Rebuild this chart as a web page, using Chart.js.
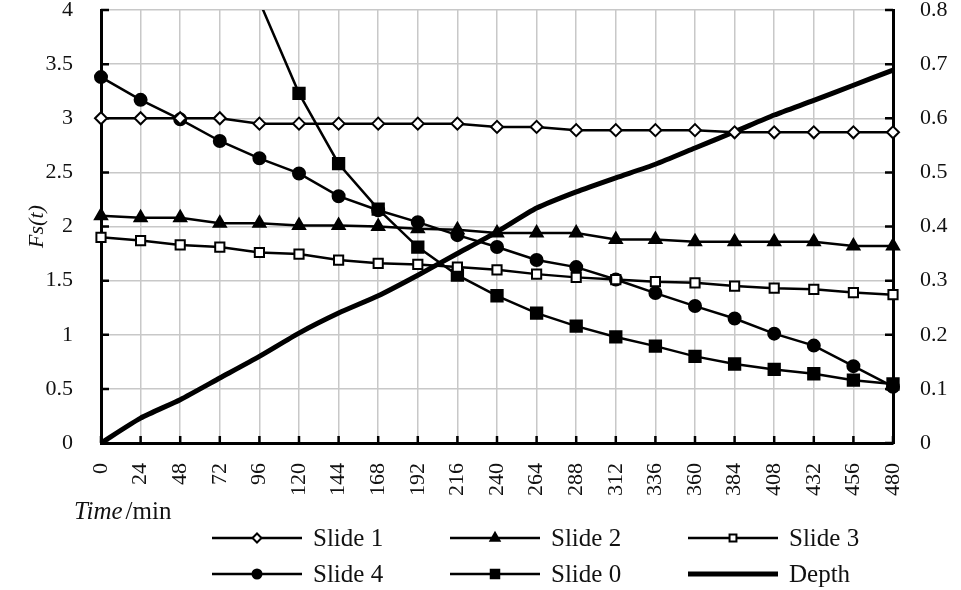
<!DOCTYPE html>
<html>
<head>
<meta charset="utf-8">
<script src="https://cdn.jsdelivr.net/npm/chart.js@4.4.1/dist/chart.umd.min.js"></script>
<style>
  html, body { margin: 0; padding: 0; background: #fff; }
</style>
</head>
<body>
<canvas id="fsChart" width="961" height="590"></canvas>
<script>
// time steps (min)
const times = [0, 24, 48, 72, 96, 120, 144, 168, 192, 216, 240, 264, 288, 312, 336, 360, 384, 408, 432, 456, 480];

// safety factor per slide (left axis)
const slide1 = [3.0, 3.0, 3.0, 3.0, 2.95, 2.95, 2.95, 2.95, 2.95, 2.95, 2.92, 2.92, 2.89, 2.89, 2.89, 2.89, 2.87, 2.87, 2.87, 2.87, 2.87];
const slide2 = [2.1, 2.08, 2.08, 2.03, 2.03, 2.01, 2.01, 2.0, 1.98, 1.97, 1.94, 1.94, 1.94, 1.88, 1.88, 1.86, 1.86, 1.86, 1.86, 1.82, 1.82];
const slide3 = [1.9, 1.87, 1.83, 1.81, 1.76, 1.745, 1.69, 1.66, 1.65, 1.625, 1.6, 1.56, 1.53, 1.51, 1.49, 1.48, 1.45, 1.43, 1.42, 1.39, 1.37];
const slide4 = [3.38, 3.17, 2.99, 2.79, 2.63, 2.49, 2.28, 2.15, 2.04, 1.92, 1.81, 1.69, 1.625, 1.51, 1.385, 1.265, 1.15, 1.01, 0.9, 0.71, 0.52];
const slide0 = [null, null, null, null, 4.08, 3.23, 2.58, 2.16, 1.81, 1.55, 1.36, 1.2, 1.08, 0.98, 0.895, 0.8, 0.73, 0.68, 0.64, 0.58, 0.545];

// depth (right axis)
const depth = [0, 0.046, 0.08, 0.12, 0.16, 0.203, 0.24, 0.272, 0.31, 0.35, 0.39, 0.434, 0.464, 0.49, 0.515, 0.545, 0.575, 0.606, 0.633, 0.661, 0.689];

// tick labels
const fsTicks = ['0', '0.5', '1', '1.5', '2', '2.5', '3', '3.5', '4'];
const depthTicks = ['0', '0.1', '0.2', '0.3', '0.4', '0.5', '0.6', '0.7', '0.8'];

const serif = '"Liberation Serif", "Times New Roman", serif';
Chart.defaults.font.family = serif;
Chart.defaults.color = '#111';

const gridColor = '#c8c8c8';

// keep the plot box fixed: no extra room for half labels
function noPad(s) {
  s.paddingTop = 0; s.paddingBottom = 0; s.paddingLeft = 0; s.paddingRight = 0;
}

// short black tick marks pointing into the plot
const inwardTicks = {
  id: 'inwardTicks',
  beforeDatasetsDraw(chart) {
    const { ctx, chartArea: a, scales } = chart;
    ctx.save();
    ctx.strokeStyle = '#000';
    ctx.lineWidth = 2.5;
    ctx.beginPath();
    scales.x.ticks.forEach((t, i) => {
      const px = scales.x.getPixelForTick(i);
      ctx.moveTo(px, a.bottom);
      ctx.lineTo(px, a.bottom - 7);
    });
    scales.y.ticks.forEach((t, i) => {
      const py = scales.y.getPixelForTick(i);
      ctx.moveTo(a.left, py);
      ctx.lineTo(a.left + 8, py);
    });
    scales.y1.ticks.forEach((t, i) => {
      const py = scales.y1.getPixelForTick(i);
      ctx.moveTo(a.right, py);
      ctx.lineTo(a.right - 8, py);
    });
    ctx.stroke();
    ctx.restore();
  }
};

// x title (italic "Time" + "/min") and the 3-column legend
const extras = {
  id: 'extras',
  afterDraw(chart) {
    const { ctx } = chart;
    ctx.save();
    ctx.fillStyle = '#111';
    ctx.textBaseline = 'middle';
    ctx.font = 'italic 25px ' + serif;
    ctx.fillText('Time', 74, 512);
    const w = ctx.measureText('Time').width;
    ctx.font = '25px ' + serif;
    ctx.fillText('/min', 74 + w + 3, 512);

    chart.data.datasets.forEach((ds, i) => {
      const col = i % 3, row = Math.floor(i / 3);
      const x0 = 212 + col * 238, y = 538 + row * 36;
      ctx.strokeStyle = '#000';
      ctx.lineWidth = ds.borderWidth;
      ctx.beginPath();
      ctx.moveTo(x0, y);
      ctx.lineTo(x0 + 90, y);
      ctx.stroke();
      if (ds.pointRadius > 0) {
        ctx.fillStyle = ds.pointBackgroundColor;
        ctx.lineWidth = ds.pointBorderWidth;
        Chart.helpers.drawPoint(ctx, {
          pointStyle: ds.pointStyle,
          radius: ds.pointRadius * 0.75,
          rotation: 0,
          borderWidth: ds.pointBorderWidth
        }, x0 + 45, y);
      }
      ctx.fillStyle = '#111';
      ctx.font = '25px ' + serif;
      ctx.fillText(ds.label, x0 + 101, y + 1);
    });
    ctx.restore();
  }
};

function series(label, data, style, radius, fill) {
  return {
    label, data, yAxisID: 'y',
    borderColor: '#000', borderWidth: 2.5,
    pointStyle: style, pointRadius: radius, pointHoverRadius: radius,
    pointBackgroundColor: fill, pointBorderColor: '#000', pointBorderWidth: 2,
    tension: 0, spanGaps: false
  };
}

new Chart(document.getElementById('fsChart'), {
  type: 'line',
  data: {
    labels: times.map(String),
    datasets: [
      series('Slide 1', slide1, 'rectRot', 6, '#fff'),
      series('Slide 2', slide2, 'triangle', 7, '#000'),
      series('Slide 3', slide3, 'rect', 6.5, '#fff'),
      series('Slide 4', slide4, 'circle', 6, '#000'),
      series('Slide 0', slide0, 'rect', 8, '#000'),
      {
        label: 'Depth', data: depth, yAxisID: 'y1',
        borderColor: '#000', borderWidth: 5, pointRadius: 0, tension: 0.2
      }
    ]
  },
  options: {
    responsive: false,
    animation: false,
    devicePixelRatio: 1,
    layout: { padding: { top: 10, left: 0, right: 0, bottom: 0 } },
    plugins: { legend: { display: false }, tooltip: { enabled: false } },
    scales: {
      x: {
        type: 'category',
        offset: false,
        grid: { color: gridColor, lineWidth: 1.5, drawTicks: false },
        border: { color: '#000', width: 3 },
        ticks: { autoSkip: false, minRotation: 90, maxRotation: 90, padding: 20, font: { size: 22 } },
        afterFit(s) { s.height = 147; noPad(s); }
      },
      y: {
        position: 'left',
        min: 0, max: 4,
        grid: { color: gridColor, lineWidth: 1.5, drawTicks: false },
        border: { color: '#000', width: 3 },
        ticks: { stepSize: 0.5, padding: 28, font: { size: 22 }, callback: (v, i) => fsTicks[i] },
        title: { display: true, text: 'Fs(t)', font: { size: 22, style: 'italic' }, padding: { top: 24, bottom: 0 } },
        afterFit(s) { s.width = 101; noPad(s); }
      },
      y1: {
        position: 'right',
        min: 0, max: 0.8,
        grid: { drawOnChartArea: false, drawTicks: false },
        border: { color: '#000', width: 3 },
        ticks: { stepSize: 0.1, padding: 27, font: { size: 22 }, callback: (v, i) => depthTicks[i] },
        afterFit(s) { s.width = 68; noPad(s); }
      }
    }
  },
  plugins: [inwardTicks, extras]
});
</script>
</body>
</html>
